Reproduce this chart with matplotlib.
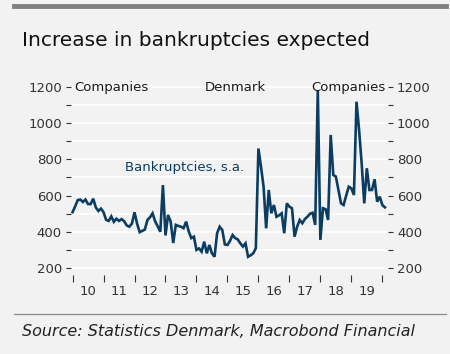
import matplotlib
matplotlib.use("Agg")
import matplotlib.pyplot as plt
import numpy as np

# monthly company bankruptcies, seasonally adjusted, Jan 2010 - Feb 2020
bankruptcies = [
    508, 540, 575, 578, 565, 578, 553, 553, 583, 535, 515, 528,   # 2010
    508, 466, 460, 485, 455, 472, 460, 470, 458, 435, 428, 445,   # 2011
    508, 445, 398, 405, 412, 465, 480, 502, 457, 430, 400, 658,   # 2012
    380, 493, 457, 338, 438, 432, 428, 420, 456, 402, 365, 373,   # 2013
    300, 308, 290, 345, 281, 327, 281, 262, 392, 428, 410, 330,   # 2014
    327, 350, 382, 365, 358, 336, 318, 336, 262, 270, 281, 309,   # 2015
    860, 760, 649, 419, 631, 502, 548, 483, 491, 502, 392, 557,   # 2016
    539, 530, 373, 428, 465, 447, 470, 483, 500, 505, 438, 1183,  # 2017
    355, 530, 525, 465, 935, 714, 705, 631, 557, 548, 600, 649,   # 2018
    640, 603, 1119, 962, 778, 557, 751, 631, 631, 690, 566, 594,  # 2019
    548, 535,                                                     # 2020
]
year_labels = ["10", "11", "12", "13", "14", "15", "16", "17", "18", "19"]
y_ticks = [200, 400, 600, 800, 1000, 1200]

bg = "#f2f2f2"
navy = "#0b3d62"
W, H = 450, 354

fig = plt.figure(figsize=(4.5, 3.54), dpi=100, facecolor=bg)

def fx(px):
    return px / W

def fy(py):
    return 1 - py / H

# header / footer decoration
fig.add_artist(plt.Line2D([fx(14), fx(446)], [fy(6), fy(6)], color="#808080", lw=3.5))
fig.add_artist(plt.Line2D([fx(14), fx(446)], [fy(314), fy(314)], color="#8c8c8c", lw=0.9))
fig.text(fx(22), fy(40), "Increase in bankruptcies expected", fontsize=14.5,
         color="#111111", va="center", ha="left")
fig.text(fx(22), fy(331), "Source: Statistics Denmark, Macrobond Financial", fontsize=11.5,
         style="italic", color="#222222", va="center", ha="left")

# axes: 1200 at y=87px, 200 at y=268px
ax = fig.add_axes([fx(71), fy(275.2), fx(388) - fx(71), (275.2 - 83.4) / H])
ax.set_facecolor(bg)
months = np.arange(len(bankruptcies))
ax.plot(months, bankruptcies, color=navy, lw=1.9, solid_joinstyle="miter", clip_on=False, zorder=3)
ax.set_xlim(-0.6, 122.2)
ax.set_ylim(160, 1220)

for s in ax.spines.values():
    s.set_visible(False)

ax.set_yticks(y_ticks)
ax.set_yticks(np.arange(300, 1200, 200), minor=True)
ax.yaxis.grid(True, which="both", color="white", lw=1.3)
ax.set_axisbelow(True)
ax.tick_params(axis="y", which="both", direction="out", length=3.5, width=0.8,
               color="#333333", labelcolor="#333333", labelsize=9.5, pad=3,
               left=True, right=True, labelleft=True, labelright=True)

ax.set_xticks(np.arange(0, 121, 12))
ax.set_xticklabels([])
ax.set_xticks(np.arange(6, 120, 12), minor=True)
ax.set_xticklabels(year_labels, minor=True)
ax.tick_params(axis="x", which="major", direction="out", length=5, width=0.8, color="#333333")
ax.tick_params(axis="x", which="minor", length=0, labelsize=9.5, labelcolor="#333333", pad=7)

ax.text(0.5, 1200, "Companies", fontsize=9.5, color="#1a1a1a", ha="left", va="center")
ax.text(63, 1200, "Denmark", fontsize=9.5, color="#1a1a1a", ha="center", va="center")
ax.text(121.3, 1200, "Companies", fontsize=9.5, color="#1a1a1a", ha="right", va="center")
ax.text(20.5, 755, "Bankruptcies, s.a.", fontsize=9.5, color=navy, ha="left", va="center")

fig.savefig("out.png", dpi=100, facecolor=bg)
